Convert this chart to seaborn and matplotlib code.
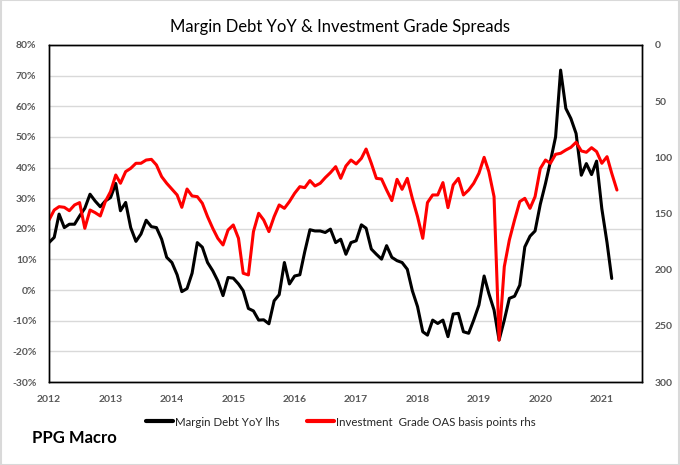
import pandas as pd
import matplotlib.pyplot as plt
import matplotlib.dates as mdates
from matplotlib.lines import Line2D
from matplotlib.patches import Rectangle
import seaborn as sns

# Margin debt YoY (%), monthly from Jan 2012
margin_debt_yoy = [
    15.5, 17.2, 24.8, 20.4, 21.5, 21.5, 24.2, 26.7, 31.3, 29.1, 27.2, 29.1,
    30.2, 34.8, 25.9, 28.6, 20.4, 15.9, 18.3, 22.8, 20.7, 20.4, 16.6, 10.7,
    9.0, 5.0, -0.5, 0.5, 5.5, 15.5, 14.0, 9.0, 6.3, 3.0, -1.8, 4.1,
    3.9, 2.0, -0.2, -6.0, -6.8, -9.8, -9.7, -11.0, -3.5, -1.5, 9.0, 2.0,
    4.6, 5.0, 12.5, 19.7, 19.3, 19.3, 18.8, 19.9, 15.5, 16.6, 11.7, 15.5,
    16.1, 21.3, 20.2, 13.4, 11.7, 10.1, 14.5, 10.7, 9.6, 9.0, 6.8, -0.2,
    -5.4, -13.6, -14.7, -9.8, -10.9, -9.8, -15.2, -7.8, -7.6, -13.6, -14.1, -9.8,
    -4.9, 4.6, -1.1, -6.5, -16.3, -9.8, -2.7, -2.0, 1.6, 14.1, 17.6, 19.3,
    28.0, 34.8, 41.9, 50.0, 71.8, 59.3, 56.0, 51.1, 37.5, 41.3, 37.7, 42.1,
    26.6, 15.5, 3.8,
]

# Investment grade OAS (basis points), monthly from Jan 2012
ig_oas_bp = [
    155.8, 146.9, 143.9, 144.5, 147.5, 142.4, 140.3, 163.2, 146.9, 149.2, 152.2, 139.4,
    130.5, 115.7, 123.1, 112.7, 109.8, 105.3, 105.3, 102.4, 101.8, 106.8, 117.2, 123.1,
    128.3, 133.5, 144.5, 128.2, 134.4, 135.0, 140.9, 152.8, 163.2, 172.1, 178.0, 164.7,
    160.2, 172.1, 203.2, 204.7, 166.1, 149.8, 155.8, 166.1, 152.8, 142.4, 145.4, 139.4,
    132.0, 126.1, 127.0, 120.7, 125.5, 123.1, 118.1, 113.6, 108.3, 118.7, 107.7, 102.4,
    105.9, 100.9, 92.6, 105.3, 118.7, 119.3, 129.1, 138.5, 119.6, 128.5, 118.7, 136.5,
    152.8, 172.1, 140.3, 133.5, 133.5, 122.5, 144.8, 124.6, 118.7, 133.5, 129.1, 123.1,
    114.2, 100.0, 112.7, 135.0, 262.6, 197.3, 173.6, 155.8, 139.4, 136.5, 145.4, 135.0,
    110.0, 102.4, 105.3, 97.3, 96.4, 93.5, 91.1, 86.6, 94.3, 95.5, 91.4, 94.9,
    105.3, 99.4, 114.2, 129.1,
]

left_ticks = list(range(-30, 81, 10))
right_ticks = list(range(0, 301, 50))
year_ticks = list(range(2012, 2022))

label_black = 'Margin Debt YoY lhs'
label_red = 'Investment  Grade OAS basis points rhs'


def generate_plot():
    df_md = pd.DataFrame({
        'date': pd.date_range('2012-01-01', periods=len(margin_debt_yoy), freq='MS'),
        'value': margin_debt_yoy,
    })
    df_ig = pd.DataFrame({
        'date': pd.date_range('2012-01-01', periods=len(ig_oas_bp), freq='MS'),
        'value': ig_oas_bp,
    })

    sns.set_theme(style="white")
    plt.rcParams['font.family'] = ['Lato', 'DejaVu Sans']

    fig = plt.figure(figsize=(6.8, 4.65), dpi=100)
    ax = fig.add_axes([49 / 680, 1 - 382 / 465, (642 - 49) / 680, (382 - 45) / 465])
    ax2 = ax.twinx()

    sns.lineplot(data=df_md, x='date', y='value', ax=ax, color='black', linewidth=2.2)
    sns.lineplot(data=df_ig, x='date', y='value', ax=ax2, color='#ff0000', linewidth=2.2)

    # left axis
    ax.set_ylim(-30, 80)
    ax.set_yticks(left_ticks)
    ax.set_yticklabels([f'{t}%' for t in left_ticks])
    ax.grid(axis='y', color='#d9d9d9', linewidth=1)
    ax.set_axisbelow(True)

    # right axis (inverted)
    ax2.set_ylim(300, 0)
    ax2.set_yticks(right_ticks)
    ax2.grid(False)

    # x axis
    ax.set_xlim(pd.Timestamp('2012-01-01'), pd.Timestamp('2021-08-28'))
    ax.set_xticks([pd.Timestamp(f'{y}-01-01') for y in year_ticks])
    ax.xaxis.set_major_formatter(mdates.DateFormatter('%Y'))

    for a in (ax, ax2):
        a.set_xlabel('')
        a.set_ylabel('')
        for s in a.spines.values():
            s.set_color('black')
            s.set_linewidth(1)
    ax.tick_params(axis='x', direction='out', length=4, width=1, color='#595959',
                   pad=5, labelsize=7.5, labelcolor='#595959')
    ax.tick_params(axis='y', length=0, pad=9, labelsize=7.5, labelcolor='#595959')
    ax2.tick_params(axis='y', length=0, pad=9, labelsize=7.5, labelcolor='#595959')
    for lbl in ax.get_xticklabels() + ax.get_yticklabels() + ax2.get_yticklabels():
        lbl.set_fontweight('bold')

    fig.text(0.5, 1 - 27 / 465, 'Margin Debt YoY & Investment Grade Spreads',
             ha='center', va='center', fontsize=12, color='black')

    handles = [Line2D([0], [0], color='black', linewidth=3),
               Line2D([0], [0], color='#ff0000', linewidth=3)]
    fig.legend(handles, [label_black, label_red], loc='center',
               bbox_to_anchor=(341 / 680, 1 - 422 / 465), ncol=2, frameon=False,
               fontsize=8.3, handlelength=2.3, handletextpad=0.2, columnspacing=2.4)

    fig.text(32 / 680, 1 - 438 / 465, 'PPG Macro', ha='left', va='center',
             fontsize=12, fontweight='bold', color='black')

    # light frame around the picture
    fig.patches.append(Rectangle((0.001, 0.001), 0.998, 0.998, transform=fig.transFigure,
                                 fill=False, edgecolor='#d9d9d9', linewidth=1.5))

    fig.savefig('out.png', dpi=100)


if __name__ == "__main__":
    generate_plot()
